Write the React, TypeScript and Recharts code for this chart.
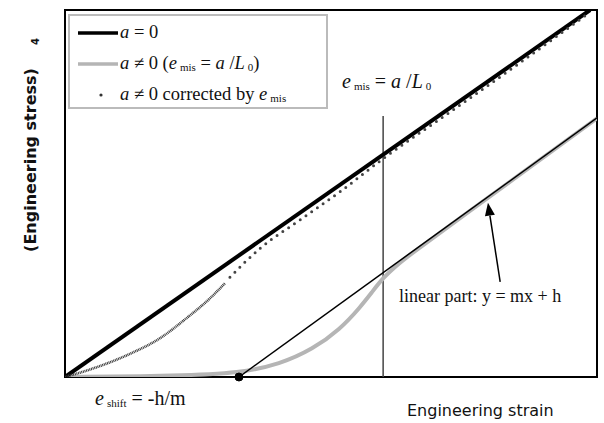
import React from 'react'
import { ComposedChart, Line, XAxis, YAxis, ReferenceArea, ReferenceLine, ReferenceDot, Legend } from 'recharts'

// a = 0 : straight line through the origin
const idealStrain = [0, 0.987]
const idealStress = [0, 1]

// a != 0 : shifted curve, toe then linear part
const misStrain = [0, 0.216, 0.329, 0.404, 0.466, 0.517, 0.555, 0.579, 0.598, 0.62, 0.648, 0.724, 1.0]
const misStress = [0, 0.003, 0.011, 0.035, 0.076, 0.13, 0.19, 0.235, 0.27, 0.3, 0.333, 0.413, 0.705]

// a != 0 corrected by e_mis (dense part, then sparse dots)
const corrDenseStrain = [0, 0.066, 0.122, 0.179, 0.229, 0.273, 0.301]
const corrDenseStress = [0, 0.03, 0.063, 0.106, 0.161, 0.215, 0.256]
const corrSparseStrain = [0.31, 0.367, 0.442, 0.517, 0.598, 0.724, 0.855, 0.983]
const corrSparseStress = [0.272, 0.351, 0.428, 0.505, 0.595, 0.722, 0.856, 0.99]

// linear fit y = mx + h
const fitStrain = [0.327, 1]
const fitStress = [0, 0.706]

const eMis = 0.598
const eMisTop = 0.711
const eShift = 0.327

const zip = (xs: number[], ys: number[]) => xs.map((x, i) => ({ x, y: ys[i] }))

const idealData = zip(idealStrain, idealStress)
const misData = zip(misStrain, misStress)
const corrDenseData = zip(corrDenseStrain, corrDenseStress)
const corrSparseData = zip(corrSparseStrain, corrSparseStress)
const fitData = zip(fitStrain, fitStress)

const serif = '"Liberation Serif", "DejaVu Serif", serif'
const sans = '"DejaVu Sans", "Liberation Sans", sans-serif'

const Sub = ({ children }: { children: React.ReactNode }) => (
  <span style={{ fontSize: 11, fontStyle: 'normal', marginLeft: 3, position: 'relative', top: 2 }}>{children}</span>
)

function LegendBox() {
  const row: React.CSSProperties = { display: 'flex', alignItems: 'center', height: 33 }
  return (
    <div style={{ width: 260, height: 95, border: '2px solid #bbb', background: '#fff', boxSizing: 'border-box', fontFamily: serif, fontSize: 18.5, color: '#111', padding: '0 0 0 6px' }}>
      <div style={row}>
        <svg width={44} height={10}><line x1={2} y1={5} x2={42} y2={5} stroke="#000" strokeWidth={3.5} /></svg>
        <span><i>a</i> = 0</span>
      </div>
      <div style={{ ...row, marginTop: -2 }}>
        <svg width={44} height={10}><line x1={2} y1={5} x2={42} y2={5} stroke="#b5b5b5" strokeWidth={3.5} /></svg>
        <span><i>a</i> ≠ 0 (<i>e</i><Sub>mis</Sub> = <i>a</i> /<i>L</i><Sub>0</Sub>)</span>
      </div>
      <div style={{ ...row, marginTop: -2 }}>
        <svg width={44} height={10}><circle cx={25} cy={5} r={1.6} fill="#333" /></svg>
        <span><i>a</i> ≠ 0 corrected by <i>e</i><Sub>mis</Sub></span>
      </div>
    </div>
  )
}

const Arrow = (p: any) => {
  const { x1, y1, x2, y2 } = p
  const ang = Math.atan2(y2 - y1, x2 - x1)
  const L = 13
  const W = 5
  const bx = x2 - L * Math.cos(ang)
  const by = y2 - L * Math.sin(ang)
  const px = -Math.sin(ang) * W
  const py = Math.cos(ang) * W
  return (
    <g>
      <line x1={x1} y1={y1} x2={bx} y2={by} stroke="#000" strokeWidth={1.5} />
      <polygon points={`${x2},${y2} ${bx + px},${by + py} ${bx - px},${by - py}`} fill="#000" />
    </g>
  )
}

export default function App() {
  return (
    <div style={{ position: 'absolute', left: 0, top: 0, width: 604, height: 423, background: '#fff' }}>
      <ComposedChart width={604} height={423} margin={{ top: 10, right: 7, bottom: 46, left: 65 }}>
        <XAxis type="number" dataKey="x" domain={[0, 1]} hide allowDataOverflow />
        <YAxis type="number" dataKey="y" domain={[0, 1]} hide allowDataOverflow />
        <ReferenceArea x1={0} x2={1} y1={0} y2={1} fill="none" fillOpacity={0} stroke="#000" strokeWidth={2} />
        <ReferenceLine segment={[{ x: eMis, y: 0 }, { x: eMis, y: eMisTop }]} stroke="#444" strokeWidth={1.5} />
        <Line data={misData} dataKey="y" type="basis" stroke="#b5b5b5" strokeWidth={4} dot={false} isAnimationActive={false} />
        <Line data={fitData} dataKey="y" type="linear" stroke="#000" strokeWidth={1.5} dot={false} isAnimationActive={false} />
        <Line data={idealData} dataKey="y" type="linear" stroke="#000" strokeWidth={4} dot={false} isAnimationActive={false} />
        <Line data={corrDenseData} dataKey="y" type="monotone" stroke="#3a3a3a" strokeWidth={2.6} strokeDasharray="1 0.7" dot={false} isAnimationActive={false} />
        <Line data={corrSparseData} dataKey="y" type="monotone" stroke="#444" strokeWidth={3} strokeDasharray="0 7" strokeLinecap="round" dot={false} isAnimationActive={false} />
        <ReferenceDot x={eShift} y={0} r={4} fill="#000" stroke="#000" />
        <ReferenceLine segment={[{ x: 0.818, y: 0.259 }, { x: 0.795, y: 0.475 }]} shape={Arrow} />
        <Legend layout="horizontal" verticalAlign="middle" align="center" content={() => <LegendBox />} wrapperStyle={{ left: 68, top: 14, width: 260 }} />
      </ComposedChart>

      <div style={{ position: 'absolute', left: 342, top: 70, fontFamily: serif, fontSize: 20, color: '#111', whiteSpace: 'nowrap' }}>
        <i>e</i><Sub>mis</Sub> = <i>a</i> /<i>L</i><Sub>0</Sub>
      </div>
      <div style={{ position: 'absolute', left: 399, top: 286, fontFamily: serif, fontSize: 18, color: '#111', whiteSpace: 'nowrap' }}>
        linear part: y = mx + h
      </div>
      <div style={{ position: 'absolute', left: 95, top: 387, fontFamily: serif, fontSize: 20, color: '#111', whiteSpace: 'nowrap' }}>
        <i>e</i><Sub>shift</Sub> = -h/m
      </div>
      <div style={{ position: 'absolute', left: 407, top: 401, fontFamily: sans, fontSize: 16, color: '#111', whiteSpace: 'nowrap' }}>
        Engineering strain
      </div>
      <div style={{ position: 'absolute', left: 31 - 110, top: 160 - 10, width: 220, height: 20, lineHeight: '20px', textAlign: 'center', transform: 'rotate(-90deg)', fontFamily: sans, fontWeight: 'bold', fontSize: 16, color: '#111', whiteSpace: 'nowrap' }}>
        (Engineering stress)
      </div>
      <div style={{ position: 'absolute', left: 32, top: 36, transform: 'rotate(-90deg)', fontFamily: sans, fontWeight: 'bold', fontSize: 10, color: '#111' }}>
        4
      </div>
    </div>
  )
}
